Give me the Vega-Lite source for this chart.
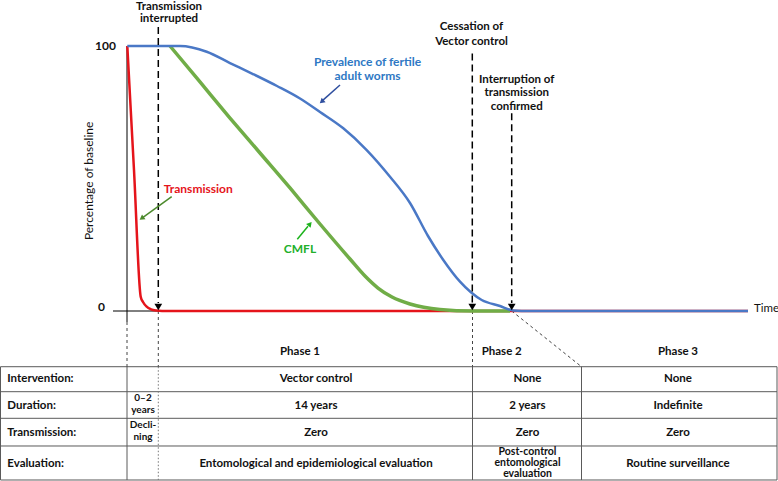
{
  "$schema": "https://vega.github.io/schema/vega-lite/v6.json",
  "width": 778,
  "height": 481,
  "padding": 0,
  "autosize": {"type": "none"},
  "background": "white",
  "config": {"view": {"stroke": null}, "text": {"font": "Lato"}},
  "datasets": {
    "gridH": [
      {"x": -12.65, "x2": 65.0, "y": -21.02, "y2": -21.02},
      {"x": -12.65, "x2": 65.0, "y": -30.45, "y2": -30.45},
      {"x": -12.65, "x2": 65.0, "y": -40.49, "y2": -40.49},
      {"x": -12.65, "x2": 65.0, "y": -50.94, "y2": -50.94},
      {"x": -12.65, "x2": 65.0, "y": -63.77, "y2": -63.77},
      {"x": -12.65, "x2": -12.65, "y": -21.02, "y2": -63.77},
      {"x": 0, "x2": 0, "y": -21.02, "y2": -63.77},
      {"x": 34.55, "x2": 34.55, "y": -21.02, "y2": -63.77},
      {"x": 45.45, "x2": 45.45, "y": -21.02, "y2": -63.77},
      {"x": 65.0, "x2": 65.0, "y": -21.02, "y2": -63.77}
    ],
    "dotted": [
      {"x": 3.13, "x2": 3.13, "y": -21.02, "y2": -63.77}
    ],
    "fineDash": [
      {"x": 0, "x2": 0, "y": -4.15, "y2": -21.02},
      {"x": 3.13, "x2": 3.13, "y": 0, "y2": -21.02},
      {"x": 34.55, "x2": 34.55, "y": 0, "y2": -21.02},
      {"x": 38.47, "x2": 45.45, "y": 0, "y2": -21.02}
    ],
    "axes": [
      {"x": 0, "x2": 0, "y": 100, "y2": -4.15},
      {"x": -1.4, "x2": 62.1, "y": 0, "y2": 0}
    ],
    "red": [
      {"t": 0.03, "p": 100}, {"t": 0.7, "p": 53.2}, {"t": 1.37, "p": 5.4},
      {"t": 1.6, "p": 3.4}, {"t": 1.97, "p": 1.62}, {"t": 2.4, "p": 0.64},
      {"t": 2.97, "p": 0.15}, {"t": 3.5, "p": 0}, {"t": 62.1, "p": 0}
    ],
    "green": [
      {"t": 4.3, "p": 100}, {"t": 7.3, "p": 86.42}, {"t": 10.3, "p": 72.83},
      {"t": 13.3, "p": 59.62}, {"t": 16.3, "p": 46.42}, {"t": 19.3, "p": 32.83},
      {"t": 22.3, "p": 19.62}, {"t": 23.8, "p": 13.21}, {"t": 25.1, "p": 8.68},
      {"t": 26.5, "p": 5.28}, {"t": 28.3, "p": 2.64}, {"t": 31.3, "p": 0.57},
      {"t": 34.6, "p": 0}, {"t": 38.3, "p": 0}
    ],
    "blue": [
      {"t": 0.03, "p": 100}, {"t": 5.3, "p": 100}, {"t": 7.97, "p": 97.85},
      {"t": 10.3, "p": 93.58}, {"t": 12.6, "p": 89.43}, {"t": 15.0, "p": 84.91},
      {"t": 17.3, "p": 80.19}, {"t": 19.3, "p": 75.1}, {"t": 21.63, "p": 68.94},
      {"t": 23.97, "p": 60.75}, {"t": 26.3, "p": 50.68}, {"t": 28.3, "p": 40.75},
      {"t": 30.1, "p": 28.3}, {"t": 31.63, "p": 19.25}, {"t": 33.3, "p": 11.06},
      {"t": 35.47, "p": 4.15}, {"t": 37.3, "p": 1.89}, {"t": 38.63, "p": 0.19},
      {"t": 40.3, "p": 0}, {"t": 62.1, "p": 0}
    ],
    "events": [
      {"x": 3.13, "y": 107.2, "y2": 3.0},
      {"x": 34.53, "y": 97.2, "y2": 3.0},
      {"x": 38.47, "y": 74.6, "y2": 3.0}
    ],
    "annot": [
      {"x": 4.2, "y": 114.9, "label": "Transmission"},
      {"x": 4.2, "y": 110.1, "label": "interrupted"},
      {"x": 34.45, "y": 107.06, "label": "Cessation of"},
      {"x": 34.45, "y": 101.62, "label": "Vector control"},
      {"x": 38.97, "y": 87.17, "label": "Interruption of"},
      {"x": 38.97, "y": 82.38, "label": "transmission"},
      {"x": 38.97, "y": 77.09, "label": "confirmed"}
    ],
    "cells": [
      {"x": 17.3, "y": -15.36, "label": "Phase 1"},
      {"x": 37.47, "y": -15.36, "label": "Phase 2"},
      {"x": 55.1, "y": -15.36, "label": "Phase 3"},
      {"x": 18.9, "y": -25.77, "label": "Vector control"},
      {"x": 40.05, "y": -25.77, "label": "None"},
      {"x": 55.1, "y": -25.77, "label": "None"},
      {"x": 18.9, "y": -35.85, "label": "14 years"},
      {"x": 40.05, "y": -35.85, "label": "2 years"},
      {"x": 55.1, "y": -35.85, "label": "Indefinite"},
      {"x": 18.9, "y": -45.92, "label": "Zero"},
      {"x": 40.05, "y": -45.92, "label": "Zero"},
      {"x": 55.1, "y": -45.92, "label": "Zero"},
      {"x": 18.9, "y": -57.74, "label": "Entomological and epidemiological evaluation"},
      {"x": 55.1, "y": -57.74, "label": "Routine surveillance"}
    ],
    "narrowCells": [
      {"x": 1.6, "y": -32.9, "label": "0–2"},
      {"x": 1.6, "y": -37.2, "label": "years"},
      {"x": 1.6, "y": -43.2, "label": "Decli-"},
      {"x": 1.6, "y": -47.5, "label": "ning"}
    ],
    "phase2Eval": [
      {"x": 40.05, "y": -53.09, "label": "Post-control"},
      {"x": 40.05, "y": -57.47, "label": "entomological"},
      {"x": 40.05, "y": -61.51, "label": "evaluation"}
    ],
    "rowLabels": [
      {"x": -11.97, "y": -25.77, "label": "Intervention:"},
      {"x": -11.97, "y": -35.85, "label": "Duration:"},
      {"x": -11.97, "y": -45.92, "label": "Transmission:"},
      {"x": -11.97, "y": -57.74, "label": "Evaluation:"}
    ],
    "ticks": [
      {"x": -1.1, "y": 100, "label": "100"},
      {"x": -2.2, "y": 1.5, "label": "0"}
    ]
  },
  "encoding": {
    "x": {"type": "quantitative", "scale": {"domain": [-12.7, 65.1], "nice": false, "zero": false}, "axis": null},
    "y": {"type": "quantitative", "scale": {"domain": [-64.15, 117.36], "nice": false, "zero": false}, "axis": null}
  },
  "layer": [
    {"data": {"name": "gridH"}, "mark": {"type": "rule", "color": "#5a5a5a", "strokeWidth": 1},
     "encoding": {"x": {"field": "x", "type": "quantitative"}, "x2": {"field": "x2"}, "y": {"field": "y", "type": "quantitative"}, "y2": {"field": "y2"}}},
    {"data": {"name": "dotted"}, "mark": {"type": "rule", "color": "#777777", "strokeWidth": 1, "strokeDash": [1.5, 2]},
     "encoding": {"x": {"field": "x", "type": "quantitative"}, "x2": {"field": "x2"}, "y": {"field": "y", "type": "quantitative"}, "y2": {"field": "y2"}}},
    {"data": {"name": "fineDash"}, "mark": {"type": "rule", "color": "#444444", "strokeWidth": 1, "strokeDash": [3, 3]},
     "encoding": {"x": {"field": "x", "type": "quantitative"}, "x2": {"field": "x2"}, "y": {"field": "y", "type": "quantitative"}, "y2": {"field": "y2"}}},
    {"data": {"name": "axes"}, "mark": {"type": "rule", "color": "#000000", "strokeWidth": 1},
     "encoding": {"x": {"field": "x", "type": "quantitative"}, "x2": {"field": "x2"}, "y": {"field": "y", "type": "quantitative"}, "y2": {"field": "y2"}}},
    {"data": {"name": "red"}, "mark": {"type": "line", "color": "#e5141b", "strokeWidth": 2.5, "interpolate": "monotone"},
     "encoding": {"x": {"field": "t", "type": "quantitative"}, "y": {"field": "p", "type": "quantitative"}}},
    {"data": {"name": "green"}, "mark": {"type": "line", "color": "#70ad47", "strokeWidth": 3.5, "interpolate": "monotone"},
     "encoding": {"x": {"field": "t", "type": "quantitative"}, "y": {"field": "p", "type": "quantitative"}}},
    {"data": {"name": "blue"}, "mark": {"type": "line", "color": "#4a78c6", "strokeWidth": 2.5, "interpolate": "monotone"},
     "encoding": {"x": {"field": "t", "type": "quantitative"}, "y": {"field": "p", "type": "quantitative"}}},
    {"data": {"name": "events"}, "mark": {"type": "rule", "color": "#000000", "strokeWidth": 1.5, "strokeDash": [7, 4]},
     "encoding": {"x": {"field": "x", "type": "quantitative"}, "y": {"field": "y", "type": "quantitative"}, "y2": {"field": "y2"}}},
    {"data": {"name": "events"}, "mark": {"type": "point", "shape": "triangle-down", "filled": true, "color": "#000000", "opacity": 1, "size": 60, "yOffset": -4},
     "encoding": {"x": {"field": "x", "type": "quantitative"}, "y": {"datum": 0, "type": "quantitative"}}},
    {"data": {"values": [{"x": 4.47, "y": 43.13, "x2": 1.6, "y2": 35.3}]}, "mark": {"type": "rule", "color": "#4c8a2c", "strokeWidth": 1.5},
     "encoding": {"x": {"field": "x", "type": "quantitative"}, "x2": {"field": "x2"}, "y": {"field": "y", "type": "quantitative"}, "y2": {"field": "y2"}}},
    {"data": {"values": [{"x": 1.47, "y": 34.98, "a": 234}]}, "mark": {"type": "point", "shape": "triangle-up", "filled": true, "color": "#4c8a2c", "opacity": 1, "size": 35},
     "encoding": {"x": {"field": "x", "type": "quantitative"}, "y": {"field": "y", "type": "quantitative"}, "angle": {"field": "a", "type": "quantitative", "scale": null}}},
    {"data": {"values": [{"x": 21.3, "y": 85.28, "x2": 19.6, "y2": 79.6}]}, "mark": {"type": "rule", "color": "#2f4f9f", "strokeWidth": 1.5},
     "encoding": {"x": {"field": "x", "type": "quantitative"}, "x2": {"field": "x2"}, "y": {"field": "y", "type": "quantitative"}, "y2": {"field": "y2"}}},
    {"data": {"values": [{"x": 19.47, "y": 79.0, "a": 228}]}, "mark": {"type": "point", "shape": "triangle-up", "filled": true, "color": "#2f4f9f", "opacity": 1, "size": 35},
     "encoding": {"x": {"field": "x", "type": "quantitative"}, "y": {"field": "y", "type": "quantitative"}, "angle": {"field": "a", "type": "quantitative", "scale": null}}},
    {"data": {"values": [{"x": 17.03, "y": 27.06, "x2": 18.1, "y2": 32.0}]}, "mark": {"type": "rule", "color": "#1db31d", "strokeWidth": 1.5},
     "encoding": {"x": {"field": "x", "type": "quantitative"}, "x2": {"field": "x2"}, "y": {"field": "y", "type": "quantitative"}, "y2": {"field": "y2"}}},
    {"data": {"values": [{"x": 18.3, "y": 32.83, "a": 40}]}, "mark": {"type": "point", "shape": "triangle-up", "filled": true, "color": "#1db31d", "opacity": 1, "size": 35},
     "encoding": {"x": {"field": "x", "type": "quantitative"}, "y": {"field": "y", "type": "quantitative"}, "angle": {"field": "a", "type": "quantitative", "scale": null}}},
    {"data": {"values": [{"x": 24.05, "y": 94.08, "label": "Prevalence of fertile"}, {"x": 24.05, "y": 88.8, "label": "adult worms"}]},
     "mark": {"type": "text", "color": "#2e78c4", "fontWeight": "bold", "fontSize": 12, "align": "center", "baseline": "middle"},
     "encoding": {"x": {"field": "x", "type": "quantitative"}, "y": {"field": "y", "type": "quantitative"}, "text": {"field": "label"}}},
    {"data": {"values": [{"x": 17.3, "y": 23.28, "label": "CMFL"}]},
     "mark": {"type": "text", "color": "#22b02a", "fontWeight": "bold", "fontSize": 12, "align": "center", "baseline": "middle"},
     "encoding": {"x": {"field": "x", "type": "quantitative"}, "y": {"field": "y", "type": "quantitative"}, "text": {"field": "label"}}},
    {"data": {"values": [{"x": 7.13, "y": 45.92, "label": "Transmission"}]},
     "mark": {"type": "text", "color": "#e5141b", "fontWeight": "bold", "fontSize": 12, "align": "center", "baseline": "middle"},
     "encoding": {"x": {"field": "x", "type": "quantitative"}, "y": {"field": "y", "type": "quantitative"}, "text": {"field": "label"}}},
    {"data": {"name": "annot"},
     "mark": {"type": "text", "color": "#111111", "fontWeight": "bold", "fontSize": 11.5, "align": "center", "baseline": "middle"},
     "encoding": {"x": {"field": "x", "type": "quantitative"}, "y": {"field": "y", "type": "quantitative"}, "text": {"field": "label"}}},
    {"data": {"name": "cells"},
     "mark": {"type": "text", "color": "#111111", "fontWeight": "bold", "fontSize": 11.5, "align": "center", "baseline": "middle"},
     "encoding": {"x": {"field": "x", "type": "quantitative"}, "y": {"field": "y", "type": "quantitative"}, "text": {"field": "label"}}},
    {"data": {"name": "narrowCells"},
     "mark": {"type": "text", "color": "#111111", "fontWeight": "bold", "fontSize": 10, "align": "center", "baseline": "middle"},
     "encoding": {"x": {"field": "x", "type": "quantitative"}, "y": {"field": "y", "type": "quantitative"}, "text": {"field": "label"}}},
    {"data": {"name": "phase2Eval"},
     "mark": {"type": "text", "color": "#111111", "fontWeight": "bold", "fontSize": 10.5, "align": "center", "baseline": "middle"},
     "encoding": {"x": {"field": "x", "type": "quantitative"}, "y": {"field": "y", "type": "quantitative"}, "text": {"field": "label"}}},
    {"data": {"name": "rowLabels"},
     "mark": {"type": "text", "color": "#111111", "fontWeight": "bold", "fontSize": 11.5, "align": "left", "baseline": "middle"},
     "encoding": {"x": {"field": "x", "type": "quantitative"}, "y": {"field": "y", "type": "quantitative"}, "text": {"field": "label"}}},
    {"data": {"name": "ticks"},
     "mark": {"type": "text", "color": "#111111", "fontWeight": "bold", "fontSize": 12, "align": "right", "baseline": "middle"},
     "encoding": {"x": {"field": "x", "type": "quantitative"}, "y": {"field": "y", "type": "quantitative"}, "text": {"field": "label"}}},
    {"data": {"values": [{"x": -3.77, "y": 49.1, "label": "Percentage of baseline"}]},
     "mark": {"type": "text", "color": "#111111", "fontSize": 12, "angle": 270, "align": "center", "baseline": "middle"},
     "encoding": {"x": {"field": "x", "type": "quantitative"}, "y": {"field": "y", "type": "quantitative"}, "text": {"field": "label"}}},
    {"data": {"values": [{"x": 62.7, "y": 0.75, "label": "Time"}]},
     "mark": {"type": "text", "color": "#111111", "fontSize": 11.5, "align": "left", "baseline": "middle"},
     "encoding": {"x": {"field": "x", "type": "quantitative"}, "y": {"field": "y", "type": "quantitative"}, "text": {"field": "label"}}}
  ]
}
